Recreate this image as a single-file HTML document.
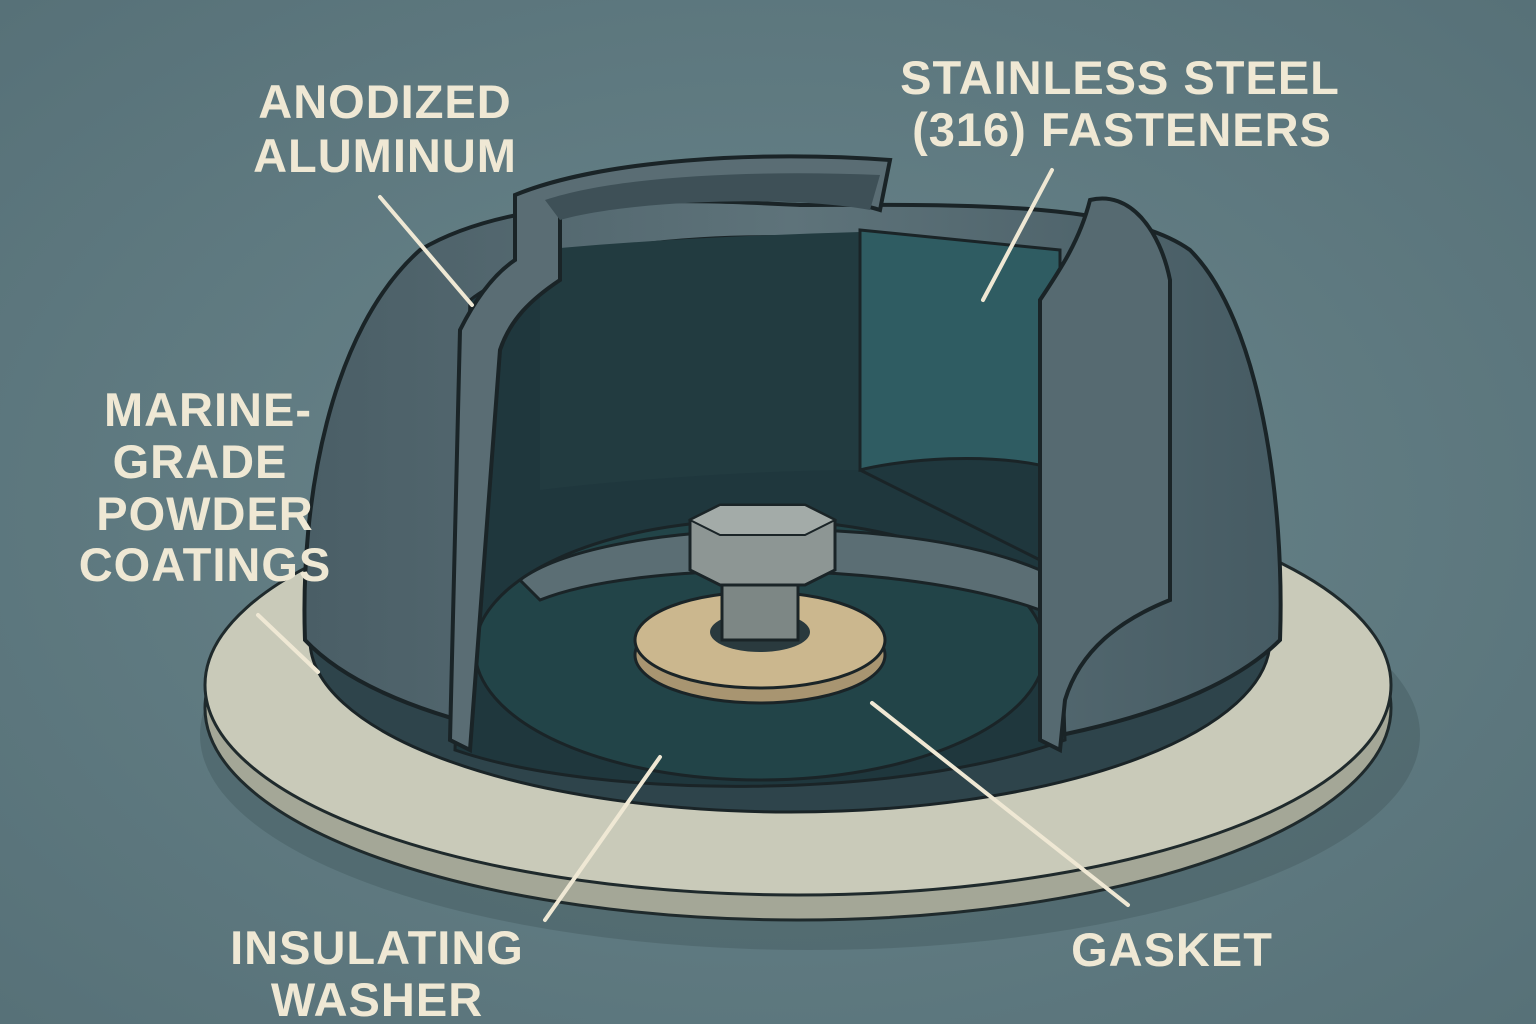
<!DOCTYPE html>
<html><head><meta charset="utf-8"><style>
html,body{margin:0;padding:0;background:#5f7a81;}
svg{display:block}
text{font-family:"Liberation Sans",sans-serif;font-weight:bold;fill:#efe8d4;font-size:47px;letter-spacing:1px;text-anchor:middle}
</style></head><body>
<svg width="1536" height="1024" viewBox="0 0 1536 1024" xmlns="http://www.w3.org/2000/svg">
<defs>
<radialGradient id="bg" cx="50%" cy="50%" r="70%">
<stop offset="0" stop-color="#6a868c"/><stop offset="1" stop-color="#577178"/></radialGradient>
<linearGradient id="body" x1="0" x2="1" y1="0" y2="0">
<stop offset="0" stop-color="#4a5e66"/><stop offset="0.5" stop-color="#5e737a"/><stop offset="1" stop-color="#465b63"/></linearGradient>
</defs>
<rect width="1536" height="1024" fill="url(#bg)"/>
<ellipse cx="810" cy="735" rx="610" ry="215" fill="#4b6268" opacity="0.6"/>
<ellipse cx="798" cy="708" rx="593" ry="212" fill="#a4a797" stroke="#1f2a2c" stroke-width="3"/>
<ellipse cx="798" cy="685" rx="593" ry="210" fill="#c9cab9" stroke="#1f2a2c" stroke-width="3"/>
<ellipse cx="790" cy="640" rx="480" ry="172" fill="#2e444b" stroke="#1a2427" stroke-width="3"/>
<path d="M305 640 C300 500 330 330 420 250 C520 190 700 200 800 205 C950 205 1120 200 1190 250 C1260 320 1285 500 1280 640 C1200 720 1000 760 790 760 C580 760 380 720 305 640 Z" fill="url(#body)" stroke="#1a2427" stroke-width="4"/>
<path d="M455 750 L470 300 C560 230 800 220 1050 260 L1065 740 C900 800 600 800 455 750 Z" fill="#1f373d" stroke="#1a2427" stroke-width="3"/>
<path d="M860 230 L1060 250 L1060 470 C990 450 900 460 860 470 Z" fill="#2f5c62" stroke="#1a2427" stroke-width="3"/>
<path d="M540 250 C640 240 760 235 860 232 L860 470 C760 470 620 480 540 490 Z" fill="#223b40"/>
<ellipse cx="760" cy="650" rx="285" ry="130" fill="#224448" stroke="#1a2427" stroke-width="3"/>
<path d="M520 580 C600 520 900 510 1040 570 L1040 610 C900 560 640 560 540 600 Z" fill="#5b6e74" stroke="#1a2427" stroke-width="3"/>
<ellipse cx="760" cy="655" rx="125" ry="48" fill="#a89571" stroke="#1a2427" stroke-width="3"/>
<ellipse cx="760" cy="640" rx="125" ry="48" fill="#cbb78e" stroke="#1a2427" stroke-width="3"/>
<ellipse cx="760" cy="632" rx="50" ry="20" fill="#2a3a3e"/>
<rect x="722" y="570" width="76" height="70" fill="#7d8785" stroke="#1a2427" stroke-width="3"/>
<path d="M690 520 L720 505 L805 505 L835 520 L835 570 L805 585 L720 585 L690 570 Z" fill="#8d9694" stroke="#1a2427" stroke-width="3"/>
<path d="M720 505 L805 505 L835 520 L805 535 L720 535 L690 520 Z" fill="#a3aba8" stroke="#1a2427" stroke-width="2"/>
<path d="M515 195 C600 160 760 150 890 160 L880 210 C820 190 640 190 560 215 L560 280 C530 300 510 320 500 350 L470 750 L450 740 L460 330 C480 290 500 270 515 260 Z" fill="#5a6d74" stroke="#1a2427" stroke-width="4"/>
<path d="M545 200 C620 175 760 170 880 175 L870 210 C790 195 630 200 560 220 Z" fill="#3e5057"/>
<path d="M1090 200 C1130 190 1160 230 1170 280 L1170 600 C1120 620 1080 650 1065 700 L1060 750 L1040 740 L1040 300 C1060 270 1080 240 1090 200 Z" fill="#566a71" stroke="#1a2427" stroke-width="4"/>
<path d="M860 232 L860 470 L1040 560" fill="none" stroke="#1a2427" stroke-width="3"/>
<g stroke="#efe8d4" stroke-width="4" stroke-linecap="round">
<line x1="380" y1="197" x2="472" y2="305"/>
<line x1="1052" y1="170" x2="983" y2="300"/>
<line x1="258" y1="615" x2="318" y2="672"/>
<line x1="660" y1="757" x2="545" y2="920"/>
<line x1="872" y1="703" x2="1128" y2="905"/>
</g>
<text x="385" y="118">ANODIZED</text>
<text x="385" y="172">ALUMINUM</text>
<text x="1120" y="94">STAINLESS STEEL</text>
<text x="1122" y="146">(316) FASTENERS</text>
<text x="208" y="426">MARINE-</text>
<text x="200" y="478">GRADE</text>
<text x="205" y="530">POWDER</text>
<text x="205" y="581">COATINGS</text>
<text x="377" y="964">INSULATING</text>
<text x="377" y="1016">WASHER</text>
<text x="1172" y="966">GASKET</text>
</svg>
</body></html>
